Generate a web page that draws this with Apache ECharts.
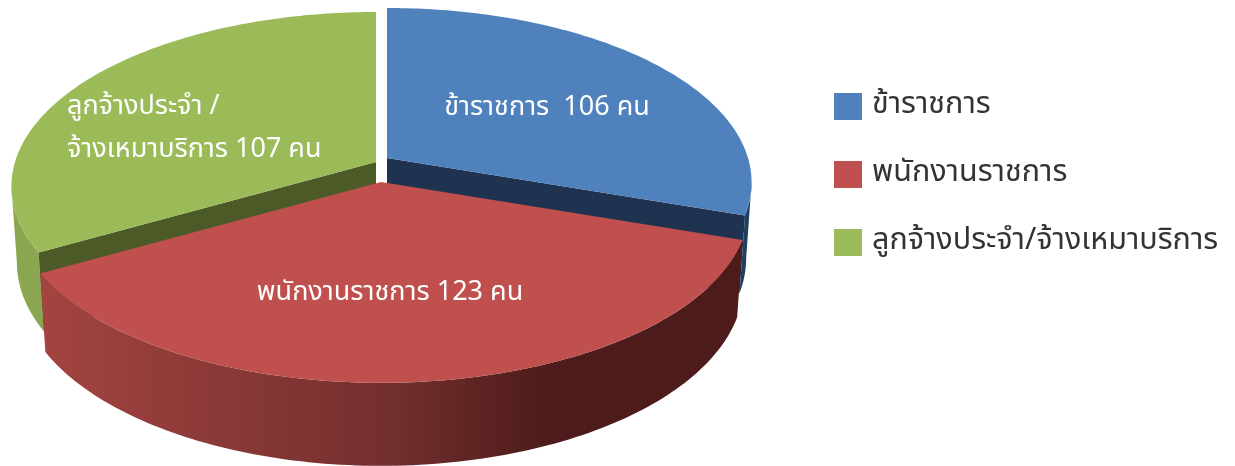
<!DOCTYPE html>
<html><head><meta charset="utf-8">
<style>html,body{margin:0;padding:0;background:#fff}#c{width:1235px;height:466px}</style>
<script src="https://cdn.jsdelivr.net/npm/echarts@6/dist/echarts.min.js"></script></head>
<body><div id="c"></div>
<script>
const categories = ['ข้าราชการ', 'พนักงานราชการ', 'ลูกจ้างประจำ/จ้างเหมาบริการ'];
const values = [106, 123, 107];
const sliceLabels = [['ข้าราชการ  106 คน'], ['พนักงานราชการ 123 คน'], ['ลูกจ้างประจำ /', 'จ้างเหมาบริการ 107 คน']];
const colors = ['#4F81BD', '#C0504D', '#9BBB59'];
const cutColors = ['#1F3350', '#4D1B19', '#4C5A28'];
const rimColors = ['#1F3F60', '#4D1B19', '#8AA650'];
const showCut = [true, false, true];

const A = 361, B = 171, K = 0.14, WARP = 5.8*Math.PI/180;
const DEPTH = 75, DEPTH_F = 0.04, TAPER = 0.985;
const apex = [[387,158],[381,182],[376,162]];
const scales = [1, 1.01, 1];
const labelPos = [[547,110],[390,295],[67,109]];
const LINE = 43;
const drawOrder = [2,0,1];

const total = values.reduce((a,b)=>a+b,0);
let acc = 0;
const warp = t => t - WARP*Math.sin(t/2);
const spans = values.map(v => { const s = [warp(acc/total*2*Math.PI), warp((acc+v)/total*2*Math.PI)]; acc += v; return s; });

function rimPoint(i,t){
  const c = apex[i], w = 1 + K*Math.cos(t), r = scales[i];
  return [c[0] + r*A*Math.sin(t)/w, c[1] - r*B*Math.cos(t)/w];
}
function down(i,p){
  const c = apex[i];
  return [c[0] + (p[0]-c[0])*TAPER, p[1] + DEPTH + DEPTH_F*(p[1]-c[1])];
}
function arc(i,a,b){ const pts=[], n=120; for(let j=0;j<=n;j++) pts.push(rimPoint(i,a+(b-a)*j/n)); return pts; }
const FONT = 'Tahoma, "Noto Sans Thai", "Noto Sans", sans-serif';

function render(idx){
  return function(params, api){
    const c = apex[idx], s = spans[idx], children = [];
    const lim = Math.acos(-K);
    const from = Math.max(s[0], lim), to = Math.min(s[1], 2*Math.PI-lim);
    if (to > from) {
      const t = arc(idx,from,to), b = t.map(p=>down(idx,p)).reverse();
      children.push({type:'polygon', shape:{points:t.concat(b)}, style:{fill: idx===1 ?
        new echarts.graphic.LinearGradient(0,0,1,0,[{offset:0,color:'#A34441'},{offset:.5,color:'#732F2D'},{offset:.72,color:'#4D1C1A'},{offset:1,color:'#4D1B19'}]) : rimColors[idx]}});
    }
    if (showCut[idx]) [s[0],s[1]].forEach(t=>{
      const p = rimPoint(idx,t);
      children.push({type:'polygon', shape:{points:[c,p,down(idx,p),down(idx,c)]}, style:{fill:cutColors[idx]}});
    });
    children.push({type:'polygon', shape:{points:[c].concat(arc(idx,s[0],s[1]))}, style:{fill:colors[idx]}});
    sliceLabels[idx].forEach((line,i)=>{
      children.push({type:'text', z2:10, style:{x:labelPos[idx][0], y:labelPos[idx][1]+i*LINE, text:line,
        fill:'#fff', font:'27px '+FONT, align: idx===2 ? 'left':'center', verticalAlign:'middle'}});
    });
    return {type:'group', children};
  };
}

const chart = echarts.init(document.getElementById('c'), null, {renderer:'canvas'});
chart.setOption({
  animation:false,
  color:colors,
  legend:{show:true, orient:'vertical', left:829, top:86, itemWidth:28, itemHeight:27, itemGap:37, icon:'rect',
    textStyle:{fontSize:30.5,lineHeight:27,height:27,color:'#333',fontFamily:FONT,padding:[0,0,0,5]},
    data:categories},
  series: drawOrder.map(i=>({type:'custom', name:categories[i], coordinateSystem:'none', silent:true,
    itemStyle:{color:colors[i]}, data:[[values[i]]], renderItem:render(i)}))
});
</script></body></html>
